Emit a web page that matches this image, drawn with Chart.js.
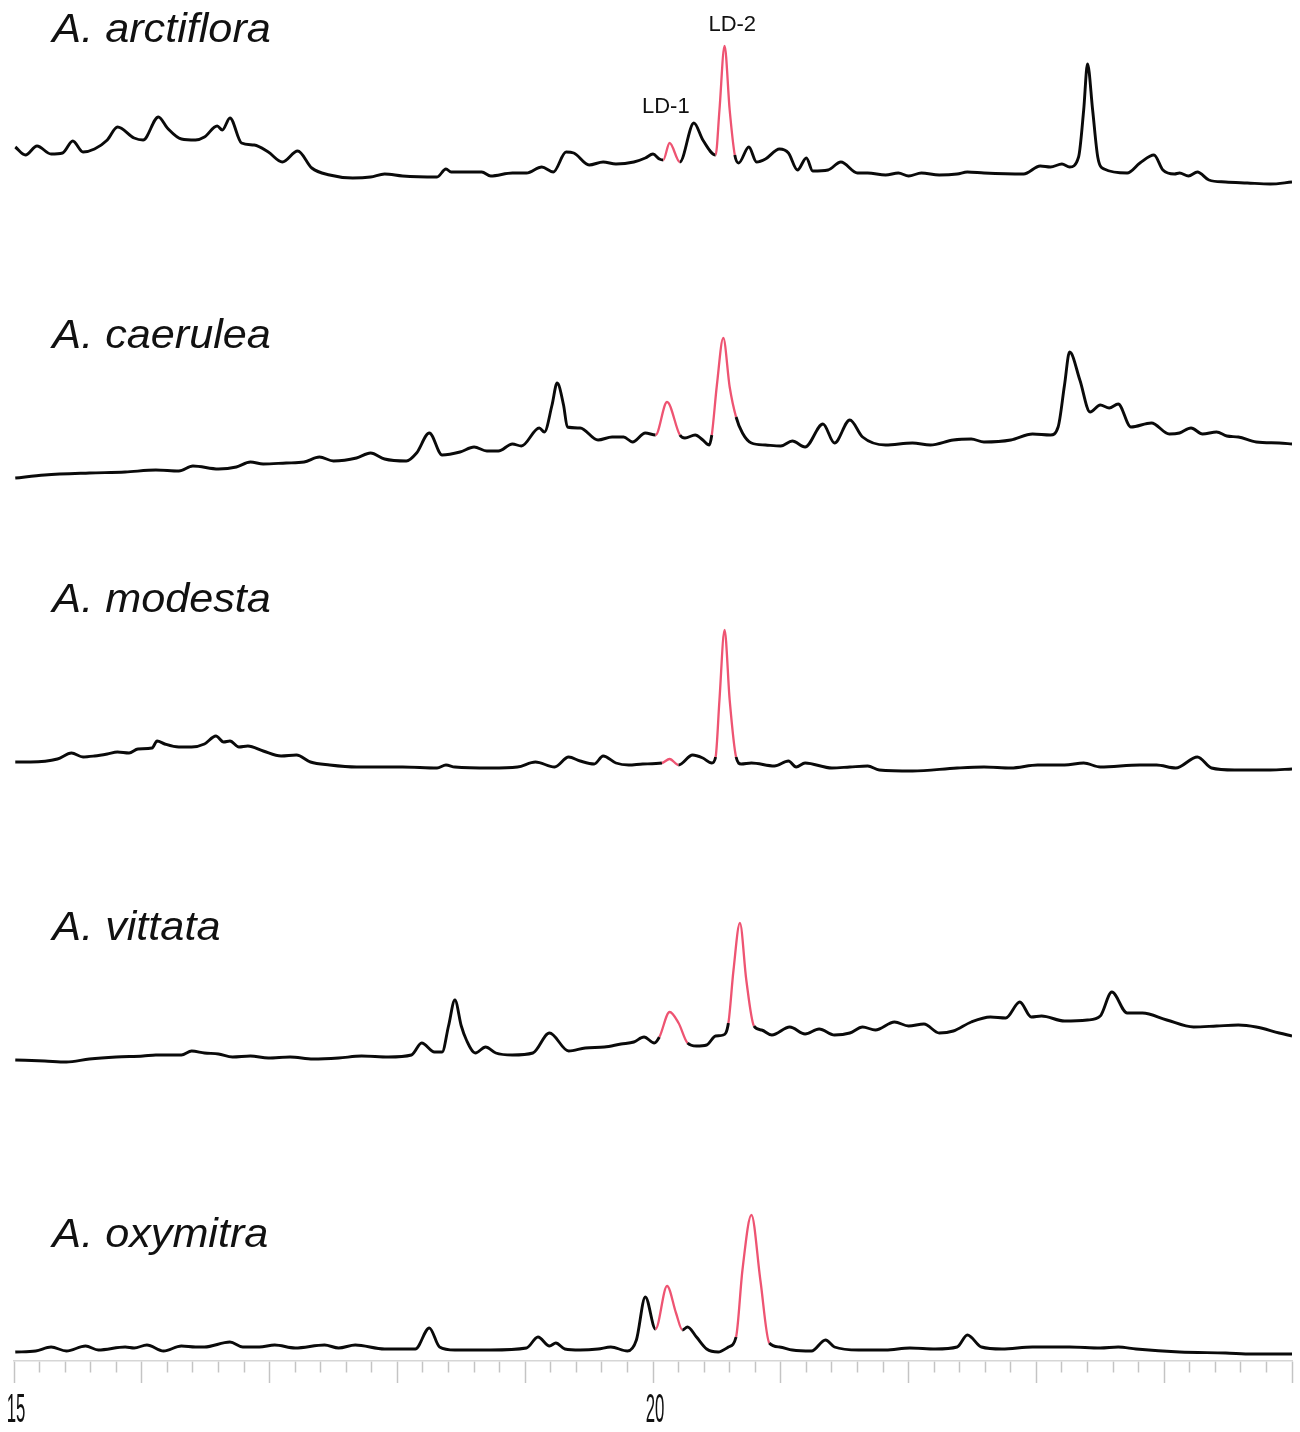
<!DOCTYPE html>
<html>
<head>
<meta charset="utf-8">
<script src="https://cdn.jsdelivr.net/npm/chart.js@4.4.1/dist/chart.umd.min.js"></script>
<style>
  html, body { margin: 0; padding: 0; background: #fff; }
  #wrap { width: 1300px; height: 1432px; }
</style>
</head>
<body>
<div id="wrap"><canvas id="chroma" width="1300" height="1432"></canvas></div>
<script>
// retention time axis (min)
const tickLabels = [15, 20];

const species = ['A. arctiflora', 'A. caerulea', 'A. modesta', 'A. vittata', 'A. oxymitra'];

// [retention time (min), signal (arbitrary units)]
const arctiflora = [
  [15.01,43],[15.09,35],[15.18,44],[15.29,36],[15.38,37],[15.46,49],[15.54,38],[15.63,41],[15.73,50],[15.81,63],
  [15.94,52],[16.01,50],[16.13,73],[16.20,62],[16.31,51],[16.42,50],[16.49,53],[16.59,64],[16.63,60],[16.69,72],
  [16.78,47],[16.88,45],[16.99,38],[17.10,28],[17.22,39],[17.33,22],[17.47,15],[17.65,12],[17.79,13],[17.90,16],
  [18.04,14],[18.31,13],[18.38,21],[18.42,18],[18.66,18],[18.73,14],[18.90,17],[19.01,17],[19.13,23],[19.22,18],
  [19.32,38],[19.38,37],[19.50,25],[19.61,28],[19.71,26],[19.85,28],[19.94,32],[20.00,36],[20.05,31],[20.08,30],
  [20.13,47],[20.21,28],[20.32,67],[20.39,50],[20.49,35],[20.52,80],[20.56,144],[20.60,80],[20.64,35],[20.67,27],
  [20.75,43],[20.81,28],[20.88,31],[20.99,41],[21.06,37],[21.13,20],[21.20,32],[21.25,19],[21.37,20],[21.47,28],
  [21.60,17],[21.68,17],[21.82,15],[21.92,17],[22.00,14],[22.10,17],[22.24,15],[22.38,16],[22.46,18],[22.59,17],
  [22.90,16],[23.03,24],[23.11,23],[23.20,26],[23.26,23],[23.33,33],[23.37,80],[23.40,126],[23.44,80],[23.48,33],
  [23.53,21],[23.71,17],[23.81,27],[23.92,35],[23.99,20],[24.08,16],[24.12,17],[24.19,14],[24.26,18],[24.35,10],
  [24.48,8],[24.65,7],[24.83,6],[25.00,8]
];

const caerulea = [
  [15.01,4],[15.24,7],[15.59,9],[15.87,10],[16.11,12],[16.29,11],[16.40,16],[16.60,13],[16.74,15],[16.85,20],
  [16.95,18],[17.13,19],[17.27,20],[17.39,25],[17.50,21],[17.68,24],[17.79,29],[17.90,23],[18.07,21],[18.15,29],
  [18.25,49],[18.35,27],[18.49,30],[18.60,35],[18.70,31],[18.79,31],[18.90,38],[18.97,36],[19.11,54],[19.15,50],
  [19.21,77],[19.25,99],[19.30,77],[19.33,55],[19.43,54],[19.57,42],[19.68,45],[19.77,45],[19.84,40],[19.94,49],
  [20.02,47],[20.11,80],[20.21,47],[20.25,44],[20.33,47],[20.39,42],[20.44,37],[20.46,47],[20.50,97],[20.55,144],
  [20.60,95],[20.65,65],[20.70,49],[20.77,39],[20.88,37],[21.00,36],[21.09,41],[21.19,35],[21.33,58],[21.42,39],
  [21.54,62],[21.64,45],[21.82,37],[22.03,39],[22.17,37],[22.35,42],[22.49,43],[22.59,40],[22.80,42],[22.97,48],
  [23.11,47],[23.17,55],[23.22,97],[23.26,130],[23.34,102],[23.42,70],[23.50,77],[23.57,74],[23.64,78],[23.74,55],
  [23.90,59],[24.04,48],[24.12,49],[24.21,54],[24.30,48],[24.41,50],[24.49,46],[24.58,45],[24.72,40],[24.90,39],
  [25.00,38]
];

const modesta = [
  [15.01,10],[15.13,10],[15.34,13],[15.45,19],[15.54,15],[15.63,16],[15.73,18],[15.81,20],[15.90,19],[15.97,23],
  [16.08,24],[16.12,31],[16.18,28],[16.29,25],[16.39,25],[16.49,28],[16.58,36],[16.64,30],[16.69,31],[16.76,25],
  [16.83,26],[16.95,21],[17.09,16],[17.21,17],[17.32,10],[17.47,7],[17.68,5],[18.04,5],[18.31,4],[18.38,7],
  [18.45,5],[18.73,4],[18.94,5],[19.08,10],[19.23,5],[19.34,15],[19.43,11],[19.54,8],[19.61,16],[19.71,9],
  [19.81,7],[19.92,8],[20.07,9],[20.13,13],[20.20,7],[20.31,17],[20.39,14],[20.46,9],[20.49,15],[20.52,72],
  [20.56,142],[20.60,72],[20.65,15],[20.69,8],[20.77,9],[20.95,6],[21.06,11],[21.12,5],[21.19,9],[21.40,4],
  [21.54,5],[21.68,6],[21.77,2],[22.03,1],[22.38,4],[22.59,5],[22.80,4],[23.01,7],[23.22,7],[23.37,9],
  [23.50,5],[23.81,7],[23.94,7],[24.09,4],[24.26,15],[24.37,4],[24.55,2],[24.83,2],[25.00,3]
];

const vittata = [
  [15.01,4],[15.24,3],[15.41,2],[15.59,5],[15.80,7],[16.01,8],[16.11,9],[16.31,9],[16.39,13],[16.49,11],
  [16.60,10],[16.71,7],[16.85,8],[16.99,6],[17.16,7],[17.34,5],[17.54,6],[17.72,8],[17.93,7],[18.11,9],
  [18.19,21],[18.29,12],[18.35,12],[18.40,38],[18.45,64],[18.50,38],[18.54,24],[18.61,11],[18.69,17],[18.77,11],
  [18.90,9],[19.06,11],[19.19,31],[19.34,13],[19.47,16],[19.62,17],[19.75,20],[19.85,22],[19.93,27],[20.01,21],
  [20.05,27],[20.13,52],[20.20,41],[20.27,21],[20.34,18],[20.42,19],[20.49,28],[20.55,29],[20.59,41],[20.63,94],
  [20.68,141],[20.73,84],[20.79,38],[20.85,34],[20.93,29],[21.07,37],[21.19,30],[21.30,35],[21.42,29],[21.54,31],
  [21.64,37],[21.74,34],[21.89,42],[22.00,38],[22.12,40],[22.24,31],[22.35,33],[22.49,42],[22.64,47],[22.76,46],
  [22.87,62],[22.96,47],[23.04,48],[23.22,43],[23.40,44],[23.50,48],[23.59,72],[23.71,51],[23.83,51],[24.02,44],
  [24.23,37],[24.41,38],[24.58,39],[24.72,37],[24.90,31],[25.00,28]
];

const oxymitra = [
  [15.01,4],[15.17,5],[15.29,9],[15.41,5],[15.56,10],[15.66,6],[15.87,9],[15.94,8],[16.04,11],[16.17,5],
  [16.31,10],[16.42,9],[16.49,9],[16.69,14],[16.79,9],[16.92,9],[17.04,11],[17.20,8],[17.43,11],[17.54,8],
  [17.67,11],[17.90,7],[18.14,7],[18.25,28],[18.33,9],[18.45,6],[18.73,6],[19.01,8],[19.10,19],[19.19,10],
  [19.24,13],[19.31,7],[19.43,6],[19.57,7],[19.67,9],[19.80,5],[19.87,16],[19.94,59],[20.02,27],[20.11,70],
  [20.18,43],[20.23,26],[20.27,29],[20.34,19],[20.42,7],[20.51,4],[20.59,9],[20.65,19],[20.70,86],[20.77,141],
  [20.84,76],[20.91,13],[20.99,9],[21.09,6],[21.24,5],[21.35,16],[21.42,9],[21.61,6],[21.82,6],[22.01,8],
  [22.21,7],[22.38,9],[22.46,21],[22.57,9],[22.73,7],[22.97,9],[23.26,9],[23.50,8],[23.64,9],[23.78,7],
  [24.12,4],[24.48,3],[24.69,2],[25.00,2]
];

// retention windows of LD-1 and LD-2 in each trace
const ldWindows = [
  [[20.08, 20.21], [20.49, 20.64]],
  [[20.02, 20.21], [20.46, 20.65]],
  [[20.07, 20.20], [20.49, 20.65]],
  [[20.05, 20.27], [20.59, 20.79]],
  [[20.02, 20.23], [20.65, 20.91]]
];
const ldNames = ['LD-1', 'LD-2'];

// layout: vertical offset of each trace and its name, in y-scale units
const traceOffset = [1171, 879, 589, 297, 5];
const nameBase = [1319, 1013, 749, 421, 114];
const ldLabelPos = [[20.10, 1248], [20.62, 1330]];

const traces = [arctiflora, caerulea, modesta, vittata, oxymitra];
const RED = '#ee5472';

function inLD(i, ctx) {
  const a = ctx.p0.parsed.x, b = ctx.p1.parsed.x;
  return ldWindows[i].some(w => a >= w[0] - 1e-6 && b <= w[1] + 1e-6);
}

const datasets = traces.map((pts, i) => ({
  label: species[i],
  data: pts.map(p => ({ x: p[0], y: traceOffset[i] + p[1] })),
  borderColor: '#0a0a0a',
  borderWidth: 2.9,
  pointRadius: 0,
  cubicInterpolationMode: 'monotone',
  segment: {
    borderColor: ctx => inLD(i, ctx) ? RED : undefined,
    borderWidth: ctx => inLD(i, ctx) ? 2.3 : undefined
  }
}));

const textPlugin = {
  id: 'traceText',
  afterDraw(chart) {
    const { ctx, scales: { x, y } } = chart;
    ctx.save();
    ctx.fillStyle = '#111';

    // species names
    ctx.font = 'italic 40px "Liberation Sans", Arial, sans-serif';
    ctx.textAlign = 'left';
    ctx.textBaseline = 'alphabetic';
    species.forEach((name, i) => {
      ctx.save();
      ctx.translate(x.getPixelForValue(15.3), y.getPixelForValue(nameBase[i]));
      ctx.scale(1.08, 1);
      ctx.fillText(name, 0, 0);
      ctx.restore();
    });

    // peak labels
    ctx.font = '22px "Liberation Sans", Arial, sans-serif';
    ctx.textAlign = 'center';
    ldNames.forEach((name, i) => {
      ctx.fillText(name, x.getPixelForValue(ldLabelPos[i][0]), y.getPixelForValue(ldLabelPos[i][1]));
    });

    // condensed tick labels
    ctx.font = '40px "Liberation Sans", Arial, sans-serif';
    ctx.textBaseline = 'middle';
    tickLabels.forEach(v => {
      ctx.save();
      ctx.translate(x.getPixelForValue(v) + 2, x.top + 50);
      ctx.scale(0.42, 1);
      ctx.fillText(String(v), 0, 0);
      ctx.restore();
    });
    ctx.restore();
  }
};

const isMajor = v => Math.abs(v - Math.round(v)) < 1e-6;

new Chart(document.getElementById('chroma'), {
  type: 'line',
  data: { datasets },
  options: {
    responsive: false,
    animation: false,
    devicePixelRatio: 1,
    layout: { padding: { left: 14, right: 8, top: 0, bottom: 0 } },
    plugins: { legend: { display: false }, tooltip: { enabled: false } },
    scales: {
      x: {
        type: 'linear',
        min: 15,
        max: 25,
        position: 'bottom',
        ticks: { display: false, stepSize: 0.2 },
        border: { display: true, color: '#d6d6d6', width: 1.5 },
        grid: {
          drawOnChartArea: false,
          drawTicks: true,
          tickLength: 22,
          tickWidth: 1.5,
          tickColor: '#c4c4c4',
          tickBorderDash: ctx => (ctx.tick && isMajor(ctx.tick.value)) ? [] : [11, 40]
        },
        afterFit: s => { s.height = 71; }
      },
      y: {
        type: 'linear',
        min: 0,
        max: 1361,
        display: false
      }
    }
  },
  plugins: [textPlugin]
});
</script>
</body>
</html>
